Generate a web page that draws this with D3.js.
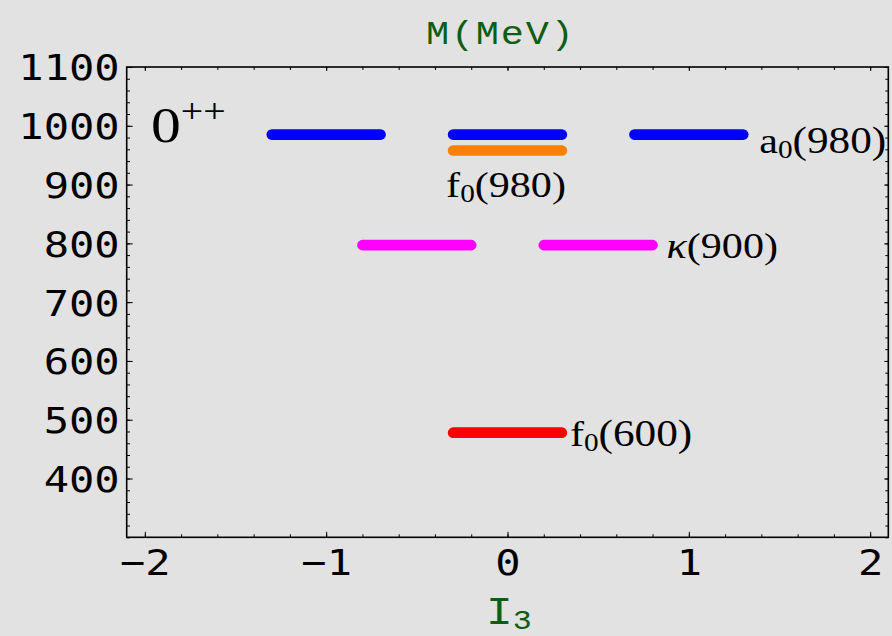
<!DOCTYPE html>
<html>
<head>
<meta charset="utf-8">
<script src="https://cdn.jsdelivr.net/npm/d3@7"></script>
<style>
  html, body { margin: 0; padding: 0; background: #e2e2e2; }
  svg { display: block; }
</style>
</head>
<body>
<svg id="chart" width="892" height="636"></svg>
<script>
// isospin (I3) positions and masses (MeV) of each multiplet
const a0I3 = [-1, 0, 1];
const a0Mass = 985;
const f0980I3 = [0];
const f0980Mass = 958;
const kappaI3 = [-0.5, 0.5];
const kappaMass = 797;
const f0600I3 = [0];
const f0600Mass = 478;
const barHalf = 0.3;

const xTicks = [-2, -1, 0, 1, 2];
const yTicks = [400, 500, 600, 700, 800, 900, 1000, 1100];

const svg = d3.select('#chart');
const sx = 1.17; // the picture is stretched sideways a little

// scales
const x = d3.scaleLinear().domain([-2.1, 2.1]).range([126.7, 888.3]);
const y = d3.scaleLinear().domain([300, 1100]).range([537.3, 67]);

const ink = '#000';
const fmt = d3.format('d');

// minor ticks
const xMinor = d3.range(-2, 2.01, 0.2).map(d => +d.toFixed(1));
const yMinor = d3.range(300, 1101, 20);

function frameAxis(axisFn, scale, ticks, size, transform, labels) {
  const a = axisFn(scale).tickValues(ticks).tickSizeInner(-size).tickSizeOuter(0);
  a.tickFormat(labels ? fmt : '');
  const g = svg.append('g').attr('transform', transform).call(a);
  g.select('.domain').remove();
  g.selectAll('line').attr('stroke', ink).attr('stroke-width', 1);
  return g;
}

// bottom
frameAxis(d3.axisBottom, x, xMinor, 3, `translate(0,${y.range()[0]})`, false);
const gx = frameAxis(d3.axisBottom, x, xTicks, 5.5, `translate(0,${y.range()[0]})`, true);
gx.selectAll('text')
  .attr('y', 38).attr('dy', 0)
  .attr('font-family', 'DejaVu Sans Mono').attr('font-size', 36)
  .attr('fill', ink)
  .attr('transform', `scale(${sx},1)`);
// top
frameAxis(d3.axisTop, x, xMinor, 3, `translate(0,${y.range()[1]})`, false);
frameAxis(d3.axisTop, x, xTicks, 4, `translate(0,${y.range()[1]})`, false);
// left
frameAxis(d3.axisLeft, y, yMinor, 3.3, `translate(${x.range()[0]},0)`, false);
const gy = frameAxis(d3.axisLeft, y, yTicks, 6, `translate(${x.range()[0]},0)`, true);
gy.selectAll('text')
  .attr('x', -6).attr('dy', '0.36em')
  .attr('font-family', 'DejaVu Sans Mono').attr('font-size', 36)
  .attr('fill', ink)
  .attr('transform', `scale(${sx},1)`);
// right
frameAxis(d3.axisRight, y, yMinor, 3, `translate(${x.range()[1]},0)`, false);
frameAxis(d3.axisRight, y, yTicks, 4, `translate(${x.range()[1]},0)`, false);

// frame
svg.append('rect')
  .attr('x', x.range()[0]).attr('y', y.range()[1])
  .attr('width', x.range()[1] - x.range()[0])
  .attr('height', y.range()[0] - y.range()[1])
  .attr('fill', 'none').attr('stroke', ink).attr('stroke-width', 1.6);

// levels
const levels = [
  { i3: a0I3, m: a0Mass, color: '#0000ff' },
  { i3: f0980I3, m: f0980Mass, color: '#ff7f00' },
  { i3: kappaI3, m: kappaMass, color: '#ff00ff' },
  { i3: f0600I3, m: f0600Mass, color: '#ff0000' }
];
levels.forEach(lv => {
  svg.append('g').selectAll('line').data(lv.i3).join('line')
    .attr('x1', d => x(d - barHalf)).attr('x2', d => x(d + barHalf))
    .attr('y1', y(lv.m)).attr('y2', y(lv.m))
    .attr('stroke', lv.color).attr('stroke-width', 10.6)
    .attr('stroke-linecap', 'round');
});

// text helper: parts = [[text, size, dy, italic]]
function label(px, py, parts, family, color) {
  const t = svg.append('text')
    .attr('transform', `translate(${px},${py}) scale(${sx},1)`)
    .attr('font-family', family).attr('fill', color || ink);
  parts.forEach(p => {
    t.append('tspan').text(p[0]).attr('font-size', p[1]).attr('dy', p[2] || 0)
      .attr('font-style', p[3] ? 'italic' : 'normal');
  });
  return t;
}
const serif = 'Liberation Serif, Times New Roman, serif';

label(x(1.3) + 16, y(a0Mass) + 18, [['a', 36], ['0', 25, 5], ['(980)', 37, -5]], serif);
label(x(-0.3) - 7, y(f0980Mass) + 47, [['f', 36], ['0', 25, 5], ['(980)', 36, -5]], serif);
label(x(0.8) + 14, y(kappaMass) + 13, [['κ', 36, 0, true], ['(900)', 36]], serif);
label(x(0.3) + 8, y(f0600Mass) + 13, [['f', 36], ['0', 25, 5], ['(600)', 37, -5]], serif);
label(151, 141.7, [['0', 51], ['++', 34, -20]], serif);

// axis titles
label(426, 44, [['M(MeV)', 33]], 'Liberation Mono, Courier New, monospace', '#0d5e12')
  .attr('letter-spacing', 1.5);
label(486, 624, [['I', 38], ['3', 27, 5]], 'Liberation Mono, Courier New, monospace', '#0d5e12');
</script>
</body>
</html>
